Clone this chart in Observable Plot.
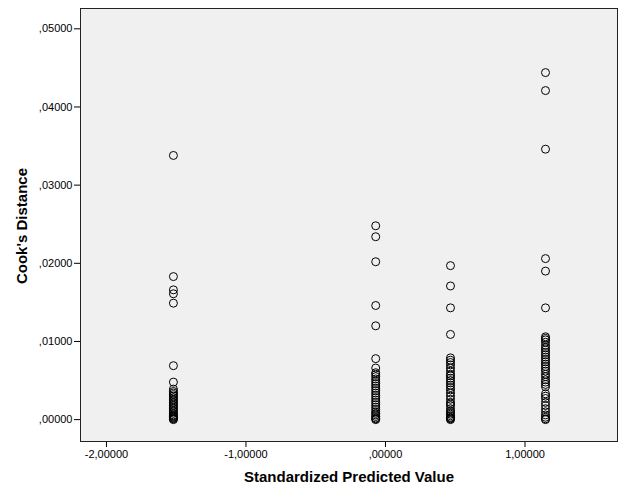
<!DOCTYPE html>
<html>
<head>
<meta charset="utf-8">
<script src="https://cdn.jsdelivr.net/npm/d3@7"></script>
<script src="https://cdn.jsdelivr.net/npm/@observablehq/plot@0.6"></script>
<style>
  html, body { margin: 0; padding: 0; background: #fff; }
  #chart svg { display: block; }
</style>
</head>
<body>
<div id="chart"></div>
<script>
// Tick values
const xTicks = [-2, -1, 0, 1];
const yTicks = [0, 0.01, 0.02, 0.03, 0.04, 0.05];

// Standardized predicted value per group (x positions)
const groupX = [-1.52, -0.07, 0.466, 1.147];

// Cook's distance values per group
const group1 = [0.0338, 0.0183, 0.0166, 0.0161, 0.0149, 0.0069, 0.0048,
  0.0039, 0.0036, 0.0034, 0.0032, 0.0030, 0.0028, 0.0026, 0.0024, 0.0022, 0.0020,
  0.0018, 0.0016, 0.0014, 0.0012, 0.0010, 0.0008, 0.0006, 0.0005, 0.0004, 0.0003,
  0.0002, 0.0001, 0.0000];
const group2 = [0.0248, 0.0234, 0.0202, 0.0146, 0.0120, 0.0078, 0.0066,
  0.0060, 0.0058, 0.0055, 0.0052, 0.0049, 0.0046, 0.0043, 0.0040, 0.0037, 0.0034,
  0.0031, 0.0028, 0.0025, 0.0022, 0.0019, 0.0016, 0.0013, 0.0010, 0.0008, 0.0006,
  0.0004, 0.0002, 0.0001, 0.0000];
const group3 = [0.0197, 0.0171, 0.0143, 0.0109,
  0.0079, 0.0076, 0.0073, 0.0070, 0.0066, 0.0062, 0.0058, 0.0056, 0.0053, 0.0050,
  0.0047, 0.0044, 0.0041, 0.0038, 0.0034, 0.0030, 0.0026, 0.0022, 0.0020, 0.0018,
  0.0014, 0.0011, 0.0009, 0.0007, 0.0005, 0.0003, 0.0002, 0.0001, 0.0000];
const group4 = [0.0444, 0.0421, 0.0346, 0.0206, 0.0190, 0.0143,
  0.0106, 0.0104, 0.0102, 0.0099, 0.0095, 0.0092, 0.0089, 0.0086, 0.0083, 0.0080,
  0.0077, 0.0074, 0.0071, 0.0068, 0.0065, 0.0062, 0.0058, 0.0055, 0.0051, 0.0048,
  0.0045, 0.0042, 0.0033, 0.0030, 0.0027, 0.0022, 0.0018, 0.0014, 0.0010, 0.0006,
  0.0003, 0.0001, 0.0000];

const groups = [group1, group2, group3, group4];
const data = groups.flatMap((vals, i) => vals.map(v => ({x: groupX[i], y: v})));

const fmt = d => {
  let s = d.toFixed(5).replace(".", ",");
  return s.replace(/^0,/, ",").replace(/^-0,/, "-,");
};

const font = "Arial, 'Liberation Sans', sans-serif";

const chart = Plot.plot({
  width: 626,
  height: 501,
  marginLeft: 80,
  marginRight: 9,
  marginTop: 8,
  marginBottom: 60,
  style: {fontFamily: font, fontSize: "11px", color: "#000", background: "#fff"},
  x: {domain: [-2.186, 1.663]},
  y: {domain: [-0.0028, 0.0526]},
  marks: [
    Plot.frame({fill: "#f0f0f0", stroke: "none"}),
    Plot.axisX({ticks: xTicks, tickFormat: fmt, tickSize: 6, tickPadding: 3, fontSize: 11, label: null, stroke: "#000"}),
    Plot.axisY({ticks: yTicks, tickFormat: fmt, tickSize: 6, tickPadding: 2, fontSize: 11, label: null, stroke: "#000"}),
    Plot.dot(data, {x: "x", y: "y", r: 4, stroke: "#000", strokeWidth: 1, fill: "none"}),
    Plot.frame({stroke: "#222", strokeWidth: 1}),
    Plot.text(["Cook's Distance"], {frameAnchor: "left", rotate: -90, dx: -58, dy: 1, fontSize: 15, fontWeight: "bold", textAnchor: "middle", lineAnchor: "middle", fill: "#000"}),
    Plot.text(["Standardized Predicted Value"], {frameAnchor: "bottom", dy: 36, fontSize: 15, fontWeight: "bold", textAnchor: "middle", lineAnchor: "middle", fill: "#000"})
  ]
});
document.getElementById("chart").appendChild(chart);
</script>
</body>
</html>
